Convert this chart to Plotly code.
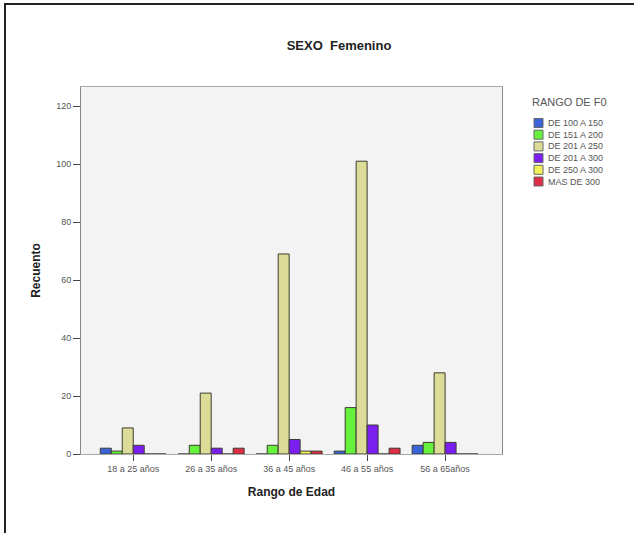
import plotly.graph_objects as go

# Age ranges (x categories)
age_ranges = ["18 a 25 años", "26 a 35 años", "36 a 45 años", "46 a 55 años", "56 a 65años"]

# F0 range series: counts per age range
de_100_150 = [2, 0, 0, 1, 3]
de_151_200 = [1, 3, 3, 16, 4]
de_201_250 = [9, 21, 69, 101, 28]
de_201_300 = [3, 2, 5, 10, 4]
de_250_300 = [0, 0, 1, 0, 0]
mas_de_300 = [0, 2, 1, 2, 0]

series_names = ["DE 100 A 150", "DE 151 A 200", "DE 201 A 250",
                "DE 201 A 300", "DE 250 A 300", "MAS DE 300"]
series_values = [de_100_150, de_151_200, de_201_250, de_201_300, de_250_300, mas_de_300]
series_colors = ["#3a64d8", "#66f23c", "#dcdc98", "#7a1ff0", "#f2f25a", "#e02c44"]
legend_title = "RANGO DE F0"

W, H = 634, 533
L, R, T, B = 81, 502, 87, 454


def px(x):
    return (x - L) / (R - L)


def py(y):
    return (B - y) / (B - T)


fig = go.Figure()
for name, vals, col in zip(series_names, series_values, series_colors):
    fig.add_trace(go.Bar(
        x=age_ranges, y=vals, name=name, showlegend=False,
        marker=dict(color=col, line=dict(color="#3c3c30", width=1)),
    ))

# Compact legend: small swatches with labels to the right
shapes = [
    dict(type="rect", xref="paper", yref="paper",
         x0=px(5), x1=px(W + 10), y0=py(H + 10), y1=py(4),
         line=dict(color="#222", width=2), fillcolor="rgba(0,0,0,0)",
         layer="below"),
]
annotations = [
    dict(text=legend_title, xref="paper", yref="paper", x=px(530), y=py(102),
         xanchor="left", yanchor="middle", showarrow=False,
         font=dict(size=11, color="#555")),
]
for i, (name, col) in enumerate(zip(series_names, series_colors)):
    yc = 123 + i * 11.7
    shapes.append(dict(type="rect", xref="paper", yref="paper",
                       x0=px(534), x1=px(543), y0=py(yc + 4.5), y1=py(yc - 4.5),
                       fillcolor=col, line=dict(color="#666", width=1)))
    annotations.append(dict(text=name, xref="paper", yref="paper",
                            x=px(546), y=py(yc), xanchor="left", yanchor="middle",
                            showarrow=False, font=dict(size=9, color="#555")))

fig.update_layout(
    width=W, height=H,
    margin=dict(l=L, r=W - R, t=T, b=H - B, pad=0),
    paper_bgcolor="white",
    plot_bgcolor="#f3f3f3",
    barmode="group", bargap=0.155, bargroupgap=0,
    font=dict(family="Liberation Sans, Arial, sans-serif", color="#333"),
    title=dict(text="<b>SEXO  Femenino</b>", x=339 / W, xanchor="center",
               y=1 - 45 / H, yanchor="middle",
               font=dict(size=13, color="#222")),
    xaxis=dict(
        range=[-0.67, 4.73], showgrid=False, zeroline=False,
        showline=True, linecolor="#a8a8a8", linewidth=1, mirror=True,
        ticks="outside", ticklen=6, tickcolor="#444", tickwidth=1,
        tickfont=dict(size=9, color="#555"),
        title=dict(text="<b>Rango de Edad</b>", standoff=14,
                   font=dict(size=12, color="#222")),
    ),
    yaxis=dict(
        range=[0, 126.6], tickvals=[0, 20, 40, 60, 80, 100, 120],
        showgrid=False, zeroline=False,
        showline=True, linecolor="#888", linewidth=1, mirror=True,
        ticks="outside", ticklen=7, tickcolor="#444", tickwidth=1,
        tickfont=dict(size=9, color="#555"),
        title=dict(text="<b>Recuento</b>", standoff=12,
                   font=dict(size=12, color="#222")),
    ),
    shapes=shapes,
    annotations=annotations,
)

fig.write_html("out.html")
